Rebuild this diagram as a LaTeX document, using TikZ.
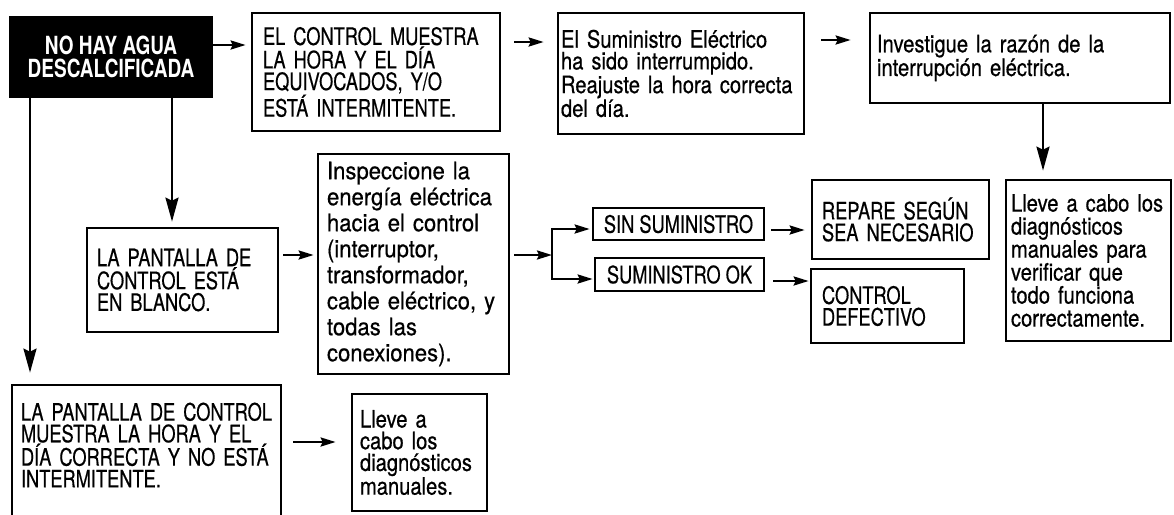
\documentclass[tikz,border=0pt]{standalone}
\usepackage{fontspec}
\setmainfont{TeX Gyre Heros}
\newfontfamily\capsfont{TeX Gyre Heros}[FakeStretch=0.76, FakeBold=0.5]
\newfontfamily\lowfont{TeX Gyre Heros}[FakeStretch=0.84, FakeBold=0.5]
\newfontfamily\widefont{TeX Gyre Heros}[FakeStretch=0.92, FakeBold=0.5]
\newfontfamily\headfont{TeX Gyre Heros}[FakeStretch=0.76]
\usetikzlibrary{arrows.meta}
\definecolor{ink}{HTML}{000000}
\tikzset{
  every picture/.style={line width=2.4pt},
  every node/.append style={execute at begin node={\hyphenpenalty=10000\exhyphenpenalty=10000}},
  box/.style={draw=ink, line width=2.7pt, fill=white, align=left, inner ysep=0pt, inner xsep=#1},
  box/.default=10pt,
  capstext/.style={font=\capsfont\fontsize{24}{#1}\selectfont},
  capstext/.default=21.7pt,
  lowtext/.style={font=\lowfont\fontsize{24}{#1}\selectfont},
  lowtext/.default=21.7pt,
  widetext/.style={font=\widefont\fontsize{24}{26}\selectfont},
  alarm/.style={box=0pt, fill=ink, text=white, align=center, font=\headfont\bfseries\fontsize{25}{23}\selectfont},
  arrow/.style={-{Stealth[length=15pt, width=9pt, inset=2pt]}, draw=ink},
  downarrow/.style={-{Stealth[length=24pt, width=13pt, inset=3pt]}, draw=ink},
}

\begin{document}
\begin{tikzpicture}[x=1pt, y=-1pt]
  \useasboundingbox (0,0) rectangle (1174,514);
  % top row
  \node[alarm, minimum width=202pt, minimum height=80pt] (head) at (111,57) {NO HAY AGUA\\DESCALCIFICADA};
  \node[box=11pt, capstext, text width=226pt, minimum height=118pt] (wrong) at (376,72) {EL CONTROL MUESTRA\\LA HORA Y EL DÍA\\EQUIVOCADOS, Y/O\\ESTÁ INTERMITENTE.};
  \node[box=3pt, lowtext, text width=240pt, minimum height=121pt] (power) at (681,73.5) {El Suministro Eléctrico\\ha sido interrumpido.\\Reajuste la hora correcta\\del día.};
  \node[box=7pt, lowtext, text width=286pt, minimum height=90pt] (invest) at (1020,58) {Investigue la razón de la\\interrupción eléctrica.};
  % middle row
  \node[box, capstext, text width=171pt, minimum height=104pt] (blank) at (182.5,280) {LA PANTALLA DE\\CONTROL ESTÁ\\EN BLANCO.};
  \node[box=9pt, widetext, text width=173pt, minimum height=220pt] (check) at (413.5,264) {Inspeccione la\\energía eléctrica\\hacia el control\\(interruptor,\\transformador,\\cable eléctrico, y\\todas las\\conexiones).};
  \node[box=0pt, capstext, minimum width=171pt, minimum height=32pt] (nosup) at (678.5,224) {SIN SUMINISTRO};
  \node[box=0pt, capstext, minimum width=169pt, minimum height=33pt] (supok) at (679.5,274.5) {SUMINISTRO OK};
  \node[box, capstext, text width=157pt, minimum height=79pt] (repair) at (900.5,219.5) {REPARE SEGÚN\\SEA NECESARIO};
  \node[box=11pt, capstext, text width=131pt, minimum height=74pt] (defect) at (887.5,306) {CONTROL\\DEFECTIVO};
  \node[box=5pt, lowtext=23pt, text width=155pt, minimum height=161pt] (diag) at (1088.5,260.5) {Lleve a cabo los\\diagnósticos\\manuales para\\verificar que\\todo funciona\\correctamente.};
  % bottom row
  \node[box=9pt, capstext, text width=251pt, minimum height=140pt] (shown) at (146.5,455) {LA PANTALLA DE CONTROL\\MUESTRA LA HORA Y EL\\DÍA CORRECTA Y NO ESTÁ\\INTERMITENTE.\rule[-20pt]{0pt}{20pt}};
  \node[box=8pt, lowtext, text width=119pt, minimum height=117pt] (manual) at (419.5,452.5) {Lleve a\\cabo los\\diagnósticos\\manuales.};
  % connectors
  \draw[arrow, shorten >=5pt] ([yshift=12pt]head.east) -- ([yshift=12pt]head.east -| wrong.west);
  \draw[arrow, shorten <=13pt, shorten >=13pt] ([yshift=30pt]wrong.east) -- ([yshift=30pt]wrong.east -| power.west);
  \draw[arrow, shorten <=16pt, shorten >=18pt] ([yshift=33.5pt]power.east) -- ([yshift=33.5pt]power.east -| invest.west);
  \draw[downarrow, shorten >=8pt] ([xshift=23pt]invest.south) -- ([xshift=23pt]invest.south |- diag.north);
  \draw[downarrow, shorten >=5pt] ([xshift=61pt]head.south) -- ([xshift=61pt]head.south |- blank.north);
  \draw[downarrow, shorten >=11pt] ([xshift=-81pt]head.south) -- ([xshift=-81pt]head.south |- shown.north);
  \draw[arrow, shorten <=4pt, shorten >=3pt] ([yshift=25pt]blank.east) -- ([yshift=25pt]blank.east -| check.west);
  \coordinate (fork) at (552,255);
  \draw[arrow, shorten <=4pt] ([yshift=9pt]check.east) -- (fork);
  \draw[arrow, shorten >=2pt] (fork) |- ([yshift=-5pt]nosup.west);
  \draw[arrow, shorten >=1pt] (fork) |- ([yshift=-4.5pt]supok.west);
  \draw[arrow, shorten <=6pt, shorten >=6pt] ([yshift=-6pt]nosup.east) -- ([yshift=-6pt]nosup.east -| repair.west);
  \draw[arrow, shorten <=8pt, shorten >=1pt] ([yshift=-6.5pt]supok.east) -- ([yshift=-6.5pt]supok.east -| defect.west);
  \draw[arrow, shorten <=11pt, shorten >=15pt] ([yshift=13pt]shown.east) -- ([yshift=13pt]shown.east -| manual.west);
\end{tikzpicture}
\end{document}
